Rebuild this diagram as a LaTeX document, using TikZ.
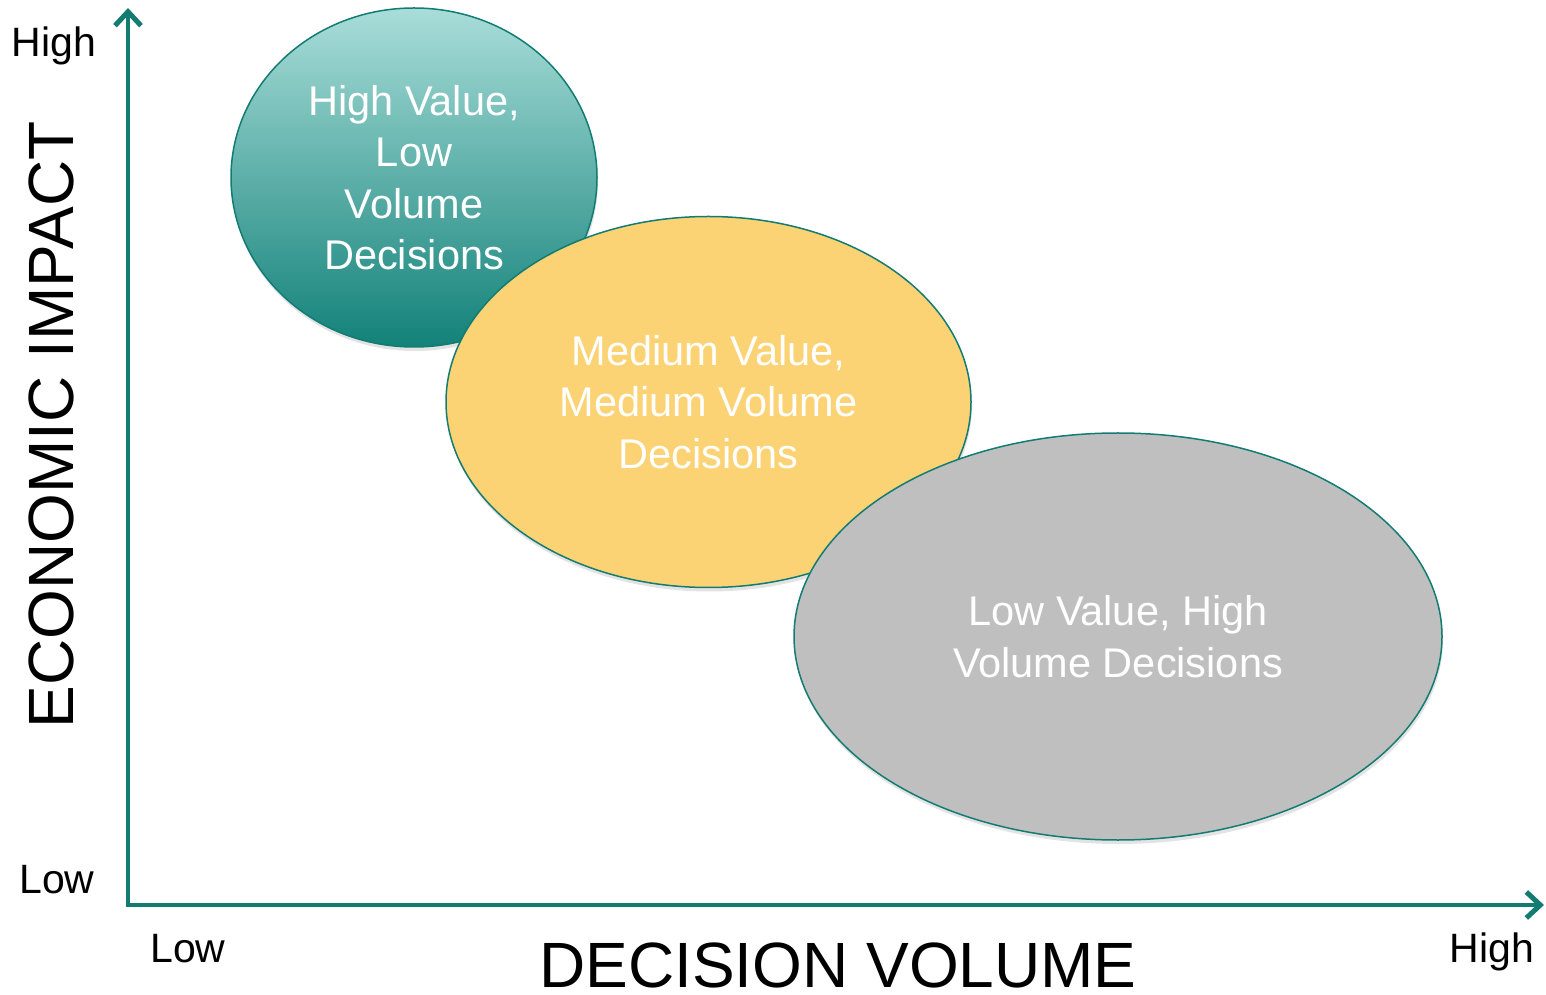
\documentclass[tikz,border=0pt]{standalone}
\usepackage{fontspec}
\setmainfont{Liberation Sans}
\usetikzlibrary{shapes.geometric,arrows.meta,shadows}

\definecolor{axisteal}{HTML}{127C73}
\definecolor{tealtop}{HTML}{A9DDD9}
\definecolor{tealbot}{HTML}{128279}
\definecolor{medyellow}{HTML}{FCD374}
\definecolor{lowgrey}{HTML}{BFBFBF}

\begin{document}
\begin{tikzpicture}[x=1pt,y=1pt]

      \useasboundingbox (0,0) rectangle (1546,994);

      \coordinate (O)    at (128,89);
      \coordinate (ytop) at (128,986);
      \coordinate (xend) at (1544,89);

      \draw[axisteal, line width=4pt, line join=miter,
            {Straight Barb[length=14pt,width=26pt,line width=5pt]}-{Straight Barb[length=14pt,width=26pt,line width=5pt]}]
            (ytop) -- (O) -- (xend);

      \begin{scope}[every node/.style={ellipse,draw=axisteal,line width=1.5pt,
                    inner sep=0pt,outer sep=0pt,text=white,align=center,
                    font=\fontsize{41.5}{51.5}\selectfont,
                    drop shadow={opacity=0.22,shadow xshift=1pt,shadow yshift=-4pt}}]
        \node[minimum width=366pt,minimum height=339pt,
              top color=tealtop,bottom color=tealbot]
              (hv) at (414,816.5) {High Value,\\Low\\Volume\\Decisions};
        \node[minimum width=525pt,minimum height=371pt,fill=medyellow]
              (mv) at (708.5,592) {Medium Value,\\Medium Volume\\Decisions};
        \node[minimum width=648pt,minimum height=407pt,fill=lowgrey]
              (lv) at (1118,357.5) {Low Value, High\\Volume Decisions};
      \end{scope}

      \begin{scope}[every node/.style={anchor=base,inner sep=0pt,
                    font=\fontsize{41}{48}\selectfont}]
        \node (yhigh) at (54,937)  {High};
        \node (ylow)  at (57,101)  {Low};
        \node (xlow)  at (188,32)  {Low};
        \node (xhigh) at (1492,32) {High};
      \end{scope}

      \begin{scope}[every node/.style={anchor=base,inner sep=0pt,
                    font=\fontsize{64}{70}\selectfont}]
        \node[rotate=90] (ylabel) at (73,569) {ECONOMIC IMPACT};
        \node (xlabel) at (838,7) {DECISION VOLUME};
      \end{scope}

    \end{tikzpicture}
\end{document}
